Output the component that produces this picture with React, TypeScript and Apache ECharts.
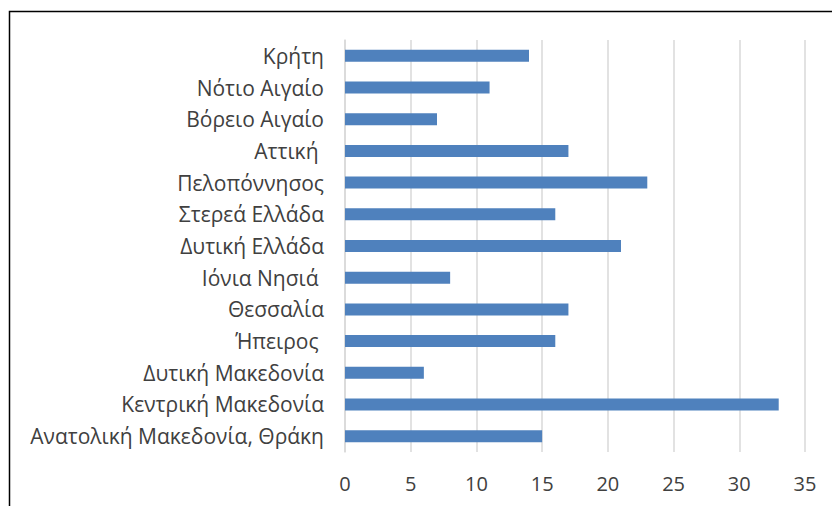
import React, { useEffect, useRef } from "react";
import * as echarts from "echarts";

const categories = [
  "Ανατολική Μακεδονία, Θράκη",
  "Κεντρική Μακεδονία",
  "Δυτική Μακεδονία",
  "Ήπειρος ",
  "Θεσσαλία",
  "Ιόνια Νησιά ",
  "Δυτική Ελλάδα",
  "Στερεά Ελλάδα",
  "Πελοπόννησος",
  "Αττική ",
  "Βόρειο Αιγαίο",
  "Νότιο Αιγαίο",
  "Κρήτη",
];
const values = [15, 33, 6, 16, 17, 8, 21, 16, 23, 17, 7, 11, 14];
const axisMin = 0;
const axisMax = 35;
const axisInterval = 5;

export default function App() {
  const ref = useRef<HTMLDivElement>(null);
  useEffect(() => {
    if (!ref.current) return;
    const chart = echarts.init(ref.current, null, { renderer: "svg" });
    const font = "'Open Sans', 'Noto Sans', sans-serif";
    chart.setOption({
      animation: false,
      backgroundColor: "#ffffff",
      textStyle: { fontFamily: font },
      graphic: [
        {
          type: "rect",
          shape: { x: 9.5, y: 11.5, width: 900, height: 600 },
          style: { fill: "none", stroke: "#000000", lineWidth: 1.5 },
          silent: true,
        },
      ],
      grid: { left: 345, right: 27, top: 40, bottom: 54, containLabel: false },
      xAxis: {
        type: "value",
        min: axisMin,
        max: axisMax,
        interval: axisInterval,
        axisLine: { show: false },
        axisTick: { show: false },
        splitLine: { show: true, lineStyle: { color: "#d9d9d9", width: 1.5 } },
        axisLabel: { color: "#404040", fontSize: 20, margin: 21, fontFamily: font },
      },
      yAxis: {
        type: "category",
        data: categories,
        axisLine: { show: true, lineStyle: { color: "#d9d9d9", width: 1.5 } },
        axisTick: { show: false },
        axisLabel: { color: "#404040", fontSize: 21, margin: 21, fontFamily: font },
      },
      series: [
        {
          type: "bar",
          data: values,
          barWidth: 12,
          itemStyle: { color: "#4f81bd" },
        },
      ],
    });
    return () => chart.dispose();
  }, []);
  return (
    <div
      ref={ref}
      style={{ position: "fixed", left: 0, top: 0, width: 832, height: 506 }}
    />
  );
}
